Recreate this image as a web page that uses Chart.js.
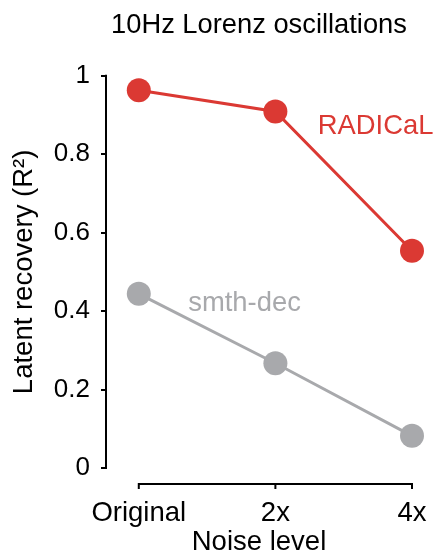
<!DOCTYPE html>
<html>
<head>
<meta charset="utf-8">
<script src="https://cdn.jsdelivr.net/npm/chart.js@4"></script>
<style>
  html, body { margin: 0; padding: 0; background: #fff; }
  #wrap { width: 435px; height: 556px; }
</style>
</head>
<body>
<div id="wrap"><canvas id="lorenzChart" width="435" height="556"></canvas></div>
<script>
// noise levels on the x axis
var noiseLabels = ['Original', '2x', '4x'];
// latent recovery (R^2) for each model
var radicalR2 = [0.963, 0.909, 0.554];
var smthDecR2 = [0.444, 0.267, 0.082];
var yTickValues = [0, 0.2, 0.4, 0.6, 0.8, 1];

var redColor = 'rgb(219, 57, 51)';
var greyColor = 'rgb(168, 169, 172)';
var fontFamily = '"Liberation Sans", Arial, Helvetica, sans-serif';

function toPoints(values) {
    return values.map(function(v, i) { return {x: i, y: v}; });
}

// series names are written beside their lines (nameAt is in data units)
var seriesNamePlugin = {
    id: 'seriesNames',
    afterDatasetsDraw: function(chart) {
        var ctx = chart.ctx;
        var xs = chart.scales.x;
        var ys = chart.scales.y;
        ctx.save();
        ctx.font = '27.4px ' + fontFamily;
        ctx.textBaseline = 'alphabetic';
        ctx.textAlign = 'left';
        chart.data.datasets.forEach(function(ds) {
            ctx.fillStyle = ds.borderColor;
            ctx.fillText(ds.label, xs.getPixelForValue(ds.nameAt[0]), ys.getPixelForValue(ds.nameAt[1]));
        });
        ctx.restore();
    }
};

// open axes: y spine only spans 0..1, x spine spans the categories and sits below the plot
var spinesPlugin = {
    id: 'spines',
    beforeDatasetsDraw: function(chart) {
        var ctx = chart.ctx;
        var xs = chart.scales.x;
        var ys = chart.scales.y;
        var area = chart.chartArea;
        var axisY = area.bottom + 16;
        ctx.save();
        ctx.strokeStyle = '#000';
        ctx.lineWidth = 2;
        ctx.beginPath();
        ctx.moveTo(area.left, ys.getPixelForValue(0) + 1);
        ctx.lineTo(area.left, ys.getPixelForValue(1) - 1);
        var x0 = xs.getPixelForValue(0);
        var x1 = xs.getPixelForValue(noiseLabels.length - 1);
        ctx.moveTo(x0 - 1, axisY);
        ctx.lineTo(x1 + 1, axisY);
        for (var i = 0; i < noiseLabels.length; i++) {
            var px = xs.getPixelForValue(i);
            ctx.moveTo(px, axisY);
            ctx.lineTo(px, axisY + 5);
        }
        ctx.stroke();
        ctx.restore();
    }
};

var ctx = document.getElementById('lorenzChart');
var myLineChart = new Chart(ctx, {
    type: 'line',
    data: {
        datasets: [
        {
            label: 'RADICaL',
            data: toPoints(radicalR2),
            borderColor: redColor,
            backgroundColor: redColor,
            borderWidth: 3,
            pointRadius: 12,
            pointHoverRadius: 12,
            pointBorderWidth: 0,
            tension: 0,
            clip: false,
            nameAt: [1.31, 0.852]
        },
        {
            label: 'smth-dec',
            data: toPoints(smthDecR2),
            borderColor: greyColor,
            backgroundColor: greyColor,
            borderWidth: 3,
            pointRadius: 12,
            pointHoverRadius: 12,
            pointBorderWidth: 0,
            tension: 0,
            clip: false,
            nameAt: [0.362, 0.399]
        }
        ]
    },
    options: {
        responsive: false,
        animation: false,
        devicePixelRatio: 1,
        layout: { autoPadding: false, padding: { top: 0, left: 0, right: 23, bottom: 0 } },
        plugins: {
            legend: { display: false },
            tooltip: { enabled: false },
            title: {
                display: true,
                fullSize: false,
                text: '10Hz Lorenz oscillations',
                color: '#000',
                font: { family: fontFamily, size: 27.3, weight: 'normal', lineHeight: 1.2 },
                padding: { top: 9, bottom: 34 }
            }
        },
        scales: {
            x: {
                type: 'linear',
                min: -0.24,
                max: 2,
                afterBuildTicks: function(scale) {
                    scale.ticks = noiseLabels.map(function(l, i) { return {value: i}; });
                },
                afterFit: function(scale) {
                    scale.height = 88;
                    scale.paddingLeft = 0;
                    scale.paddingRight = 0;
                },
                grid: { display: false },
                border: { display: false },
                ticks: {
                    callback: function(v) { return noiseLabels[v]; },
                    color: '#000',
                    font: { family: fontFamily, size: 27.5 },
                    padding: 21,
                    maxRotation: 0,
                    autoSkip: false
                },
                title: {
                    display: true,
                    text: 'Noise level',
                    color: '#000',
                    font: { family: fontFamily, size: 27.5, lineHeight: 1 },
                    padding: { top: 0, bottom: 0 }
                }
            },
            y: {
                min: 0,
                max: 1,
                afterBuildTicks: function(scale) {
                    scale.ticks = yTickValues.map(function(v) { return {value: v}; });
                },
                afterFit: function(scale) { scale.width = 106; },
                grid: { drawOnChartArea: false, drawTicks: true, tickLength: 5, color: '#000', lineWidth: 2 },
                border: { display: false },
                ticks: {
                    callback: function(v) { return String(+v.toFixed(1)); },
                    color: '#000',
                    font: { family: fontFamily, size: 26 },
                    padding: 11
                },
                title: {
                    display: true,
                    text: 'Latent recovery (R²)',
                    color: '#000',
                    font: { family: fontFamily, size: 27.5, lineHeight: 1 },
                    padding: { top: 11, bottom: 0 }
                }
            }
        }
    },
    plugins: [spinesPlugin, seriesNamePlugin]
});
</script>
</body>
</html>
